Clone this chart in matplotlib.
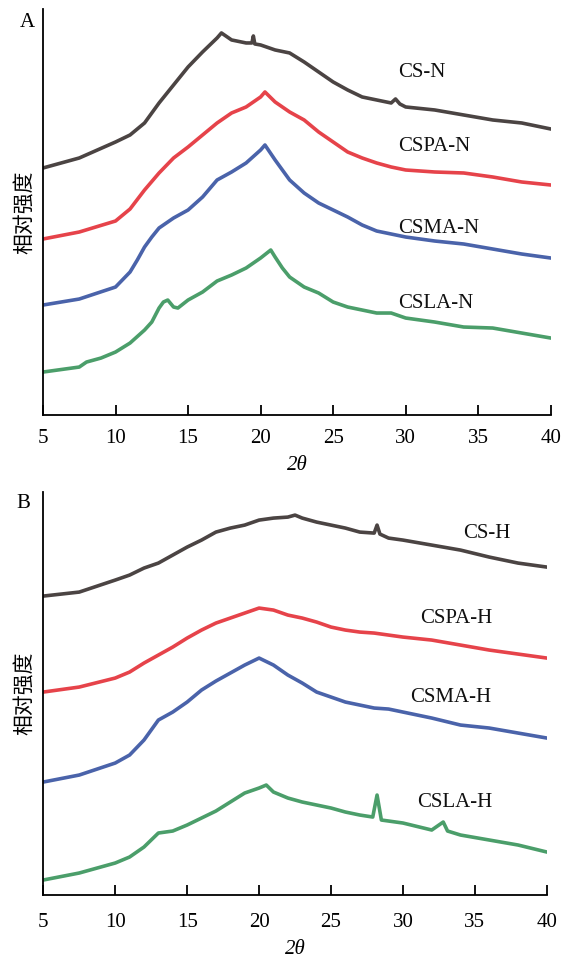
import matplotlib
matplotlib.use("Agg")
import matplotlib.pyplot as plt

# ---- data (2theta in degrees, relative intensity in arbitrary units) ----
names_n = ["CS-N", "CSPA-N", "CSMA-N", "CSLA-N"]
names_h = ["CS-H", "CSPA-H", "CSMA-H", "CSLA-H"]

tth_cs_n = [5, 7.5, 10, 11, 12, 13, 14, 15, 16, 17, 17.3, 18, 19, 19.4, 19.5, 19.6, 20, 21, 22, 23, 24,
            25, 26, 27, 28, 29, 29.3, 29.6, 30, 32, 34, 36, 38, 40]
int_cs_n = [247, 257, 273, 280, 292, 312, 330, 348, 363, 377, 382, 375, 372, 372, 379, 371, 370, 365, 362, 353, 343,
            333, 325, 318, 315, 312, 316, 311, 308, 305, 300, 295, 292, 286]

tth_cspa_n = [5, 7.5, 10, 11, 12, 13, 14, 15, 16, 17, 18, 19, 20, 20.3, 21, 22, 23, 24, 25, 26, 27, 28,
              29, 30, 32, 34, 36, 38, 40]
int_cspa_n = [176, 183, 194, 206, 225, 242, 257, 268, 280, 292, 302, 308, 318, 323, 313, 303, 295, 283, 273, 263, 257, 252,
              248, 245, 243, 242, 238, 233, 230]

tth_csma_n = [5, 7.5, 10, 11, 11.5, 12, 12.5, 13, 13.5, 14, 15, 16, 17, 18, 19, 20, 20.3, 21, 22, 23, 24,
              25, 26, 27, 28, 29, 30, 32, 34, 36, 38, 40]
int_csma_n = [110, 116, 128, 143, 155, 168, 178, 187, 192, 197, 205, 218, 235, 243, 252, 265, 270, 255, 235, 222, 212,
              205, 198, 190, 184, 181, 178, 174, 171, 166, 161, 157]

tth_csla_n = [5, 7.5, 8, 9, 10, 11, 12, 12.5, 13, 13.3, 13.6, 14, 14.3, 15, 16, 17, 18, 19, 20, 20.7, 21,
              21.5, 22, 23, 24, 25, 26, 27, 28, 29, 30, 32, 34, 36, 38, 40]
int_csla_n = [43, 48, 53, 57, 63, 72, 85, 93, 107, 113, 115, 108, 107, 115, 123, 134, 140, 147, 157, 165, 158,
              147, 138, 128, 122, 113, 108, 105, 102, 102, 97, 93, 88, 87, 82, 77]

tth_cs_h = [5, 7.5, 10, 11, 12, 13, 14, 15, 16, 17, 18, 19, 20, 21, 22, 22.5, 23, 24, 25, 26, 27, 28,
            28.2, 28.4, 29, 30, 32, 34, 36, 38, 40]
int_cs_h = [299, 303, 315, 320, 327, 332, 340, 348, 355, 363, 367, 370, 375, 377, 378, 380, 377, 373, 370, 367, 363, 362,
            370, 361, 357, 355, 350, 345, 338, 332, 328]

tth_cspa_h = [5, 7.5, 10, 11, 12, 13, 14, 15, 16, 17, 18, 19, 20, 21, 22, 23, 24, 25, 26, 27, 28,
              29, 30, 32, 34, 36, 38, 40]
int_cspa_h = [203, 208, 217, 223, 232, 240, 248, 257, 265, 272, 277, 282, 287, 285, 280, 277, 273, 268, 265, 263, 262,
              260, 258, 255, 250, 245, 241, 237]

tth_csma_h = [5, 7.5, 10, 11, 12, 13, 14, 15, 16, 17, 18, 19, 20, 21, 22, 23, 24, 25, 26, 27, 28,
              29, 30, 32, 34, 36, 38, 40]
int_csma_h = [113, 120, 132, 140, 155, 175, 183, 193, 205, 214, 222, 230, 237, 230, 220, 212, 203, 198, 193, 190, 187,
              186, 183, 177, 170, 167, 162, 157]

tth_csla_h = [5, 7.5, 10, 11, 12, 13, 14, 15, 16, 17, 18, 19, 20, 20.5, 21, 22, 23, 24, 25, 26, 27, 27.9,
              28.2, 28.5, 29, 30, 32, 32.8, 33.1, 34, 36, 38, 40]
int_csla_h = [15, 22, 32, 38, 48, 62, 64, 70, 77, 84, 93, 102, 107, 110, 103, 97, 93, 90, 87, 83, 80, 78,
              100, 75, 74, 72, 65, 73, 64, 60, 55, 50, 43]

xticks = [5, 10, 15, 20, 25, 30, 35, 40]
colors = ["#4b4443", "#e6434a", "#4a63aa", "#4b9e6a"]

# label anchor points (2theta, intensity) for the curve names
label_pos_n = [(29.5, 342), (29.5, 268), (29.5, 187), (29.5, 112)]
label_pos_h = [(34.2, 362), (31.2, 277), (30.5, 198), (31.0, 93)]

serif = ["Liberation Serif", "DejaVu Serif"]
cjk = ["Noto Sans CJK SC", "DejaVu Sans"]

fig = plt.figure(figsize=(5.62, 9.63), dpi=100)
axA = fig.add_axes([0.0765, 0.569, 0.9035, 0.4217])
axB = fig.add_axes([0.077, 0.0706, 0.896, 0.4184])

panels = [
    (axA, "A", names_n, label_pos_n,
     [(tth_cs_n, int_cs_n), (tth_cspa_n, int_cspa_n), (tth_csma_n, int_csma_n), (tth_csla_n, int_csla_n)],
     406, 10, 6, (-0.03, 0.99)),
    (axB, "B", names_h, label_pos_h,
     [(tth_cs_h, int_cs_h), (tth_cspa_h, int_cspa_h), (tth_csma_h, int_csma_h), (tth_csla_h, int_csla_h)],
     403, 13, 6, (-0.04, 0.995)),
]

for ax, letter, names, lpos, series, ytop, tpad, xlpad, letter_xy in panels:
    for (x, y), c, name, (lx, ly) in zip(series, colors, names, lpos):
        ax.plot(x, y, color=c, lw=2.6, solid_joinstyle="round")
        ax.text(lx, ly, name, family=serif, fontsize=15, ha="left", va="center", color="#111111")
    ax.set_xlim(5, 40)
    ax.set_ylim(0, ytop)
    ax.set_xticks(xticks)
    ax.set_yticks([])
    ax.spines["top"].set_visible(False)
    ax.spines["right"].set_visible(False)
    ax.spines["left"].set_linewidth(1.3)
    ax.spines["bottom"].set_linewidth(1.3)
    ax.tick_params(axis="x", direction="in", length=7, width=1.3, pad=tpad, labelsize=15)
    for lab in ax.get_xticklabels():
        lab.set_family(serif)
    ax.set_xlabel("2θ", family=serif, style="italic", fontsize=15, labelpad=xlpad)
    ax.set_ylabel("相对强度", family=cjk, fontsize=15, labelpad=6)
    ax.text(letter_xy[0], letter_xy[1], letter, transform=ax.transAxes, family=serif, fontsize=15,
            ha="center", va="top")

fig.savefig("out.png", dpi=100)
